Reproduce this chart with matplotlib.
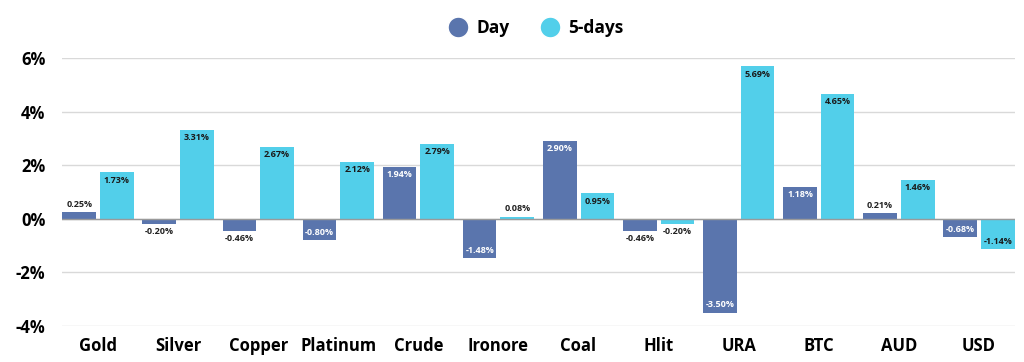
import matplotlib
matplotlib.use("Agg")
import matplotlib.pyplot as plt
import numpy as np
from matplotlib.lines import Line2D

categories = ["Gold", "Silver", "Copper", "Platinum", "Crude", "Ironore",
              "Coal", "Hlit", "URA", "BTC", "AUD", "USD"]
day = [0.25, -0.20, -0.46, -0.80, 1.94, -1.48, 2.90, -0.46, -3.50, 1.18, 0.21, -0.68]
five_days = [1.73, 3.31, 2.67, 2.12, 2.79, 0.08, 0.95, -0.20, 5.69, 4.65, 1.46, -1.14]
yticks = [-4, -2, 0, 2, 4, 6]

c_day = "#5a75ad"
c_five = "#52cfea"

plt.rcParams['font.family'] = ['Open Sans', 'DejaVu Sans']

fig = plt.figure(figsize=(10.24, 3.62), dpi=100)
ax = fig.add_axes([62/1024, 36/362, (1015-62)/1024, (326-58)/362])

x = np.arange(len(categories))
w = 0.42
off = 0.235
b1 = ax.bar(x - off, day, w, color=c_day, zorder=3)
b2 = ax.bar(x + off, five_days, w, color=c_five, zorder=3)

ax.set_xlim(-0.45, len(categories) - 0.55)
ax.set_ylim(-4, 6)
ax.set_yticks(yticks)
ax.set_yticklabels([f"{t}%" for t in yticks], fontsize=12, fontweight='bold')
ax.set_xticks(x)
ax.set_xticklabels(categories, fontsize=12, fontweight='bold')
ax.tick_params(axis='both', length=0)
ax.tick_params(axis='y', pad=12)
ax.tick_params(axis='x', pad=8)
for s in ax.spines.values():
    s.set_visible(False)
ax.grid(axis='y', color='#d9d9d9', linewidth=1, zorder=0)
ax.axhline(0, color='#9a9a9a', linewidth=1, zorder=4)

thr = 0.6
def label(bars, vals, inside_color):
    for b, v in zip(bars, vals):
        cx = b.get_x() + b.get_width() / 2
        txt = f"{v:.2f}%"
        if abs(v) >= thr:
            if v > 0:
                ax.text(cx, v - 0.12, txt, ha='center', va='top', fontsize=6.5,
                        fontweight='bold', color=inside_color, zorder=5)
            else:
                ax.text(cx, v + 0.12, txt, ha='center', va='bottom', fontsize=6.5,
                        fontweight='bold', color=inside_color, zorder=5)
        else:
            if v >= 0:
                ax.text(cx, v + 0.12, txt, ha='center', va='bottom', fontsize=6.5,
                        fontweight='bold', color='#222222', zorder=5)
            else:
                ax.text(cx, v - 0.12, txt, ha='center', va='top', fontsize=6.5,
                        fontweight='bold', color='#222222', zorder=5)

label(b1, day, 'white')
label(b2, five_days, '#1a1a1a')

handles = [Line2D([0], [0], marker='o', color='w', markerfacecolor=c_day, markersize=15),
           Line2D([0], [0], marker='o', color='w', markerfacecolor=c_five, markersize=15)]
leg = fig.legend(handles, ["Day", "5-days"], loc='center', bbox_to_anchor=(0.522, 0.922),
                 ncol=2, frameon=False, prop={'weight': 'bold', 'size': 12.5},
                 handletextpad=0.3, columnspacing=1.6, handlelength=1.5)

fig.savefig("out.png", dpi=100)
